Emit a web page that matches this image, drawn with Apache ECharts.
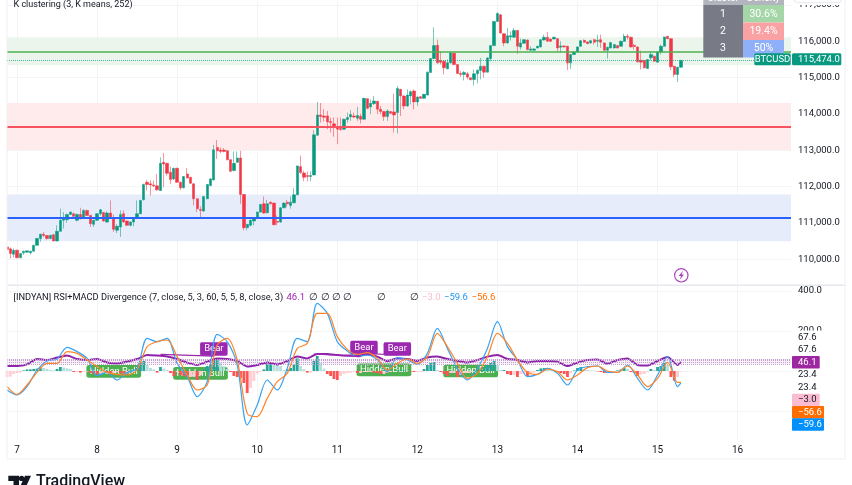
<!DOCTYPE html>
<html>
<head>
<meta charset="utf-8">
<style>
html, body { margin: 0; padding: 0; background: #fff; overflow: hidden; }
#chart { width: 852px; height: 485px; }
</style>
<script src="https://cdn.jsdelivr.net/npm/echarts@6/dist/echarts.min.js"></script>
</head>
<body>
<div id="chart"></div>
<script>
const FONT = 'Roboto';

// hourly candles, first one is 21:00 on the 6th
const opens = [
  110337,110283,110136,110246,110036,110173,110191,110173,110219,110383,
  110566,110685,110648,110566,110675,110502,110767,111068,111086,111232,
  111251,111068,111232,111141,111342,111205,110958,111068,111251,111287,
  111022,111269,111123,110794,110885,111251,111050,110931,111022,111141,
  111251,111634,112118,112073,112045,112018,111890,112666,112639,112392,
  112210,112502,112118,111963,112347,112255,112073,111662,111370,111324,
  111662,112027,112182,113077,113004,113004,112986,112739,112438,112666,
  112785,111780,110867,110931,111050,111141,111296,111525,111278,111570,
  111543,111041,111022,111415,111570,111479,111552,111771,112548,112374,
  112301,112274,112319,113415,113973,113945,113945,113790,113726,113625,
  113598,113580,113845,113918,113945,113881,113936,113854,114420,114192,
  114283,114347,114128,114064,113927,114064,114055,114037,114676,114493,
  114219,114493,114630,114329,114475,114429,114520,115142,115525,115890,
  115470,115452,115242,115406,115671,115361,115114,115087,115105,114995,
  114950,115105,115196,115315,115151,115525,115881,116548,116731,116210,
  115954,116119,116110,116301,115845,115945,116037,115754,115754,115818,
  115845,116037,116110,116064,116064,116073,115836,115872,115863,115406,
  115635,115708,115863,116027,115982,115954,116046,116000,116046,115954,
  115753,115818,115818,115881,115863,116000,116137,116110,115890,115845,
  115479,115470,115251,115544,115589,115425,115708,115863,116137,116073,
  115315,115087,115288
];
const closes = [
  110264,110155,110246,110036,110155,110219,110228,110219,110383,110566,
  110685,110648,110566,110657,110502,110767,111068,111114,111232,111296,
  111178,111232,111114,111342,111205,110977,111068,111251,111360,111050,
  111269,111141,110821,110904,111232,111022,110931,111022,111141,111251,
  111616,112054,112054,112045,112018,111908,112639,112621,112365,112191,
  112502,112118,111963,112274,112237,112091,111662,111388,111342,111726,
  112054,112210,113013,112986,112968,112968,112739,112420,112639,112785,
  111780,110867,110958,111068,111141,111296,111506,111269,111525,111525,
  110949,111013,111415,111543,111525,111570,111771,112566,112383,112255,
  112274,112301,113424,113972,113927,113909,113781,113762,113625,113580,
  113571,113854,113900,113982,113918,113954,113854,114429,114155,114292,
  114356,114128,114064,113927,114082,114018,113973,114703,114493,114219,
  114520,114612,114329,114466,114429,114539,115151,115525,115881,115406,
  115425,115269,115406,115680,115361,115114,115087,115142,115014,114941,
  115105,115206,115315,115151,115543,115881,116548,116767,116228,115954,
  116155,116155,116301,115863,115954,116046,115772,115790,115790,115863,
  116046,116110,116000,116000,116110,115817,115872,115845,115406,115635,
  115708,115845,116018,115973,115936,116018,115973,116027,115973,115753,
  115836,115964,115909,115818,116000,116137,116110,115845,115854,115434,
  115425,115269,115498,115635,115452,115708,115863,116119,116073,115297,
  115087,115288,115474
];
const highs = [
  110374,110319,110292,110260,110155,110230,110235,110230,110390,110590,
  110700,110748,110660,110670,110690,110931,111388,111296,111250,111310,
  111290,111260,111415,111380,111360,111220,111090,111270,111380,111300,
  111320,111616,111230,110960,111342,111342,111070,111040,111160,111616,
  111630,112080,112182,112164,112164,112347,112803,112922,112650,112548,
  112520,112520,112130,112290,112511,112270,112090,111680,111452,111740,
  112070,112230,113150,113278,113077,113060,113000,112750,112968,112968,
  112986,111790,110970,111090,111160,111310,111520,111726,111634,111590,
  111560,111205,111430,111560,111634,111726,111954,112580,112849,112438,
  112411,112420,113552,114329,114301,114128,114082,113900,113900,113900,
  113900,113870,114037,114100,114037,114192,114009,114440,114430,114402,
  114493,114360,114219,114080,114128,114080,114557,114767,114690,114510,
  114676,114650,114676,114480,114490,114550,115170,115540,116384,116046,
  115726,115470,115498,115726,115690,115375,115178,115178,115160,115010,
  115224,115220,115543,115330,115560,115890,116560,116795,116750,116220,
  116365,116274,116365,116310,116073,116060,116050,115863,115810,115880,
  116060,116183,116256,116080,116130,116090,116000,115890,115880,115650,
  115720,115860,116030,116050,116000,116040,116073,116183,116183,115970,
  115850,115980,115920,115900,116020,116210,116201,116130,115927,115860,
  115744,115490,115510,115726,115610,115720,115909,116130,116150,116090,
  115330,115300,115490
];
const lows = [
  110246,110018,110045,110030,110030,110120,110180,110130,110200,110370,
  110480,110612,110540,110560,110490,110490,110760,110840,111000,111220,
  111130,111040,111090,111120,111190,110885,110885,111050,111200,111030,
  111000,111130,110750,110720,110612,111010,110920,110900,110904,111130,
  111240,111620,111890,111753,111981,111890,111880,111981,112300,112073,
  112180,112100,111908,111950,112220,112070,111479,111296,111141,111300,
  111650,112010,112170,112758,112913,112940,112720,112400,112420,112650,
  111525,110794,110794,110900,110931,111130,111280,111250,111260,111510,
  110930,110931,111000,111400,111433,111388,111540,111760,112347,112146,
  112146,112146,112310,113400,113762,113790,113580,113488,113370,113169,
  113534,113560,113762,113808,113881,113808,113735,113840,114128,113991,
  114247,113991,113991,113808,113808,113990,113488,113461,113945,114128,
  114200,114265,114128,114219,114410,114410,114510,115130,115510,115390,
  115360,115087,115230,115390,115340,115100,115014,114922,114950,114930,
  114785,114840,114950,114995,115140,115452,115870,116540,116210,115863,
  115940,116018,116100,115653,115772,115930,115750,115740,115740,115800,
  115830,116020,115990,115980,116050,115726,115680,115830,115206,115242,
  115620,115690,115850,115960,115920,115940,115909,115845,115817,115740,
  115525,115800,115800,115800,115850,115980,116046,115830,115772,115420,
  115224,115250,115240,115470,115430,115410,115635,115850,116060,115206,
  115014,114877,115270
];

const lastPrice = 115474;
// k clustering levels: [band top, centre, band bottom]
const clusterGreen = [116110, 115707, 115342];
const clusterRed = [114301, 113652, 113005];
const clusterBlue = [111780, 111142, 110492];
const priceTicks = [110000, 111000, 112000, 113000, 114000, 115000, 116000, 117000];

// indicator lines, read every third candle (the last one is candle 202)
const rsiLine = [
  25,25,33,60,55,67,77,60,55,60,43,38,47,60,80,77,72,60,42,30,47,63,60,50,22,30,43,33,
  50,72,63,85,85,80,77,77,83,72,50,63,60,50,68,72,60,50,42,55,72,80,60,55,43,50,50,47,25,
  42,55,58,37,55,63,30,27,50,70,30,46.1
];
const macdLine = [
  -95,-120,-78,5,50,60,118,97,63,-23,-7,-45,-7,13,163,147,163,38,-28,-128,-53,183,147,30,-270,-170,-45,-95,
  13,163,147,338,288,147,100,72,80,55,-3,67,55,33,88,213,113,13,-45,13,113,247,122,55,-28,-17,13,-12,-70,
  5,22,25,-7,-7,30,-37,-95,-20,72,-78,-59.6
];
const signalLine = [
  -78,-117,-70,-7,38,38,97,88,55,22,-7,-17,-20,5,122,147,155,72,-20,-95,-70,130,163,55,-212,-228,-137,-53,
  -12,113,138,288,288,172,108,83,92,63,5,38,60,38,72,188,122,38,-37,-12,72,188,138,55,-7,-17,10,-3,-45,
  -20,17,25,0,-7,25,-20,-78,-37,43,-57,-56.6
];
const histogram = [
  -30,-28,-15,-10,-8,3,8,8,10,12,18,15,10,5,3,10,20,17,14,10,-5,-5,-8,-4,-3,
  -10,-14,-18,-12,-8,-10,-14,-10,-6,-10,-14,-10,-5,-3,
  15,40,50,30,15,8,-8,20,12,5,-10,-25,-5,-20,-25,-30,-30,-30,-45,-20,8,25,30,60,60,40,
  25,10,-5,-25,-30,-35,-60,-110,-85,-50,-12,-5,8,35,45,40,35,25,5,
  8,15,33,63,25,10,-8,-8,50,75,40,12,-15,-25,-40,-45,-25,-15,-10,-8,-5,-10,-10,-5,-5,-5,-8,-10,-15,-15,
  -8,-5,-3,3,3,3,2,-2,-5,-5,-5,10,30,40,45,5,-5,-15,-25,-10,-10,-30,-20,-10,-10,-5,-5,5,10,20,30,40,50,30,
  5,5,-15,-20,-20,-30,-15,-15,-25,-10,-8,5,13,15,10,8,5,-5,-10,-15,-30,
  -10,3,15,20,10,5,3,2,-2,-5,-10,-5,-3,-3,3,8,15,10,-5,-8,-25,-18,-15,-5,10,5,20,25,40,30,-30,-48,-30,-3
];
const indicatorTicks = [400, 200, 0, -200];
const overboughtRows = [60, 52, 44, 35];
// [candle, value] of the divergence flags
const bearFlags = [[62, 110], [107, 117], [117, 110]];
const bullFlags = [[32, -2], [58, -12], [113, 6], [139, 0]];
// [[candle, value], [candle, value]]
const divergenceLines = [
  [[46, 83], [62, 74]],
  [[92, 85], [106, 72]],
  [[107, 88], [117, 80]]
];

const dayLabels = ['7', '8', '9', '10', '11', '12', '13', '14', '15', '16'];
const clusterIds = ['1', '2', '3'];
const clusterShares = ['30.6%', '19.4%', '50%'];

const UP = '#089981';
const DOWN = '#f23645';
const GRID = '#f3f4f6';
const TEXT = '#131722';

// flag shape with small corners, the built in roundRect is too round here
const FLAG_PATH = 'path://M2,0H38a2,2 0 0 1 2,2V11a2,2 0 0 1 -2,2H2a2,2 0 0 1 -2,-2V2a2,2 0 0 1 2,-2z';

// 3 empty slots before the 7th, 236 in total so the pane ends at the right spot
const SLOTS = 236;
const isDayStart = i => i >= 3 && (i - 3) % 24 === 0;
const categories = [];
for (let i = 0; i < SLOTS; i++) {
  categories.push(isDayStart(i) ? (dayLabels[(i - 3) / 24] || '') : '');
}

const candles = opens.map((o, i) => [o, closes[i], lows[i], highs[i]]);
const sampled = values => values.map((v, k) => [Math.min(k * 3, 202), v]);

const histColor = i => {
  const v = histogram[i];
  const prev = i > 0 ? histogram[i - 1] : v;
  if (v >= 0) return v >= prev ? '#26a69a' : '#b2dfdb';
  return v < prev ? '#ff5252' : '#ffcdd2';
};

const clusterMarks = [
  { band: clusterGreen, fill: '#ebf5ec', line: '#4caf50', width: 1.6 },
  { band: clusterRed, fill: '#ffebeb', line: '#f7525f', width: 2 },
  { band: clusterBlue, fill: '#e7ecfb', line: '#2962ff', width: 2 }
];

const text = (value, x, y, fill, size, extra) => ({
  type: 'text',
  z: 100,
  silent: true,
  style: Object.assign({ text: value, x: x, y: y, fill: fill, font: `${size || 9.5}px ${FONT}`, textVerticalAlign: 'middle' }, extra)
});
const box = (x, y, width, height, fill, r) => ({
  type: 'rect',
  z: 99,
  silent: true,
  shape: { x: x, y: y, width: width, height: height, r: r || 0 },
  style: { fill: fill }
});
const tag = (value, y, width, fill, color) => [
  box(792, y - 6.2, width, 12.4, fill, 1),
  text(value, 798, y, color)
];

const graphics = [
  // clip the half candle at the left edge
  box(0, 0, 7, 284, '#fff'),
  // frame and pane separator
  { type: 'rect', z: 99.5, silent: true, shape: { x: 7, y: -2, width: 838, height: 461 }, style: { fill: 'none', stroke: '#eff0f4', lineWidth: 1 } },
  box(7, 284.5, 838, 1.5, '#e6e8f0'),
  // pill hiding the top of the scale
  box(794, 0, 48, 5, '#fff'),
  { type: 'rect', z: 99, silent: true, shape: { x: 794.5, y: -6, width: 47, height: 8.7, r: 3 }, style: { fill: '#fff', stroke: '#e6e8f0', lineWidth: 1 } },

  text('K clustering (3, K means, 252)', 13.5, 4.5, TEXT, 9),
  text('[INDYAN] RSI+MACD Divergence (7, close, 5, 3, 60, 5, 5, 8, close, 3)', 13.5, 297.5, TEXT, 9.25),
  text('46.1', 286.5, 297.5, '#9c27b0'),
  text('\u2205', 309, 297.5, TEXT),
  text('\u2205', 320.5, 297.5, TEXT),
  text('\u2205', 332, 297.5, TEXT),
  text('\u2205', 343, 297.5, TEXT),
  text('\u2205', 377, 297.5, TEXT),
  text('\u2205', 410, 297.5, TEXT),
  text('\u22123.0', 422, 297.5, '#f8bbd0'),
  text('\u221259.6', 444, 297.5, '#2196f3'),
  text('\u221256.6', 471.5, 297.5, '#ff6d00'),

  // cluster table
  box(703.3, 0, 80.7, 5, '#b2b5be'),
  text('Cluster', 723, -2, '#fff', 10, { textAlign: 'center' }),
  text('Density', 763.5, -2, '#fff', 10, { textAlign: 'center' }),
  box(703.3, 5, 39.7, 52.5, '#787b86'),
  box(743, 5, 41, 17.5, '#a5d6a7'),
  box(743, 22.5, 41, 17.5, '#faa1a4'),
  box(743, 40, 41, 17.5, '#90aff9'),

  // last price tags
  box(754.3, 53.3, 36.4, 12, UP, 1.5),
  text('BTCUSD', 772.5, 59.5, '#fff', 9.5, { textAlign: 'center' }),
  box(792, 53.3, 49.3, 12, UP, 1.5),
  text('115,474.0', 798, 59.5, '#fff'),

  // indicator scale readouts, these sit above the axis labels
  box(792, 330.5, 50, 12.5, '#fff'),
  text('67.6', 798, 337.3, TEXT),
  text('67.6', 798, 349.6, TEXT),
  text('23.4', 798, 375, TEXT),
  text('23.4', 798, 387.5, TEXT),
  ...tag('46.1', 362.2, 27.7, '#9c27a0', '#fff'),
  ...tag('\u22123.0', 400, 27.7, '#fbbcd1', TEXT),
  ...tag('\u221256.6', 412.2, 32, '#ff6d00', '#fff'),
  ...tag('\u221259.6', 424.5, 32, '#0091ff', '#fff'),

  // alert icon
  { type: 'circle', z: 99, silent: true, shape: { cx: 681.3, cy: 275.3, r: 6.7 }, style: { fill: '#fff', stroke: '#ab47bc', lineWidth: 1.2 } },
  { type: 'polygon', z: 100, silent: true, shape: { points: [[683, 270.8], [678.6, 276], [681, 276], [679.8, 279.8], [684, 274.6], [681.6, 274.6]] }, style: { fill: '#ab47bc' } },

  // logo
  { type: 'polygon', z: 100, silent: true, shape: { points: [[8.3, 475.7], [19, 475.7], [19, 489], [13.5, 489], [13.5, 481], [8.3, 481]] }, style: { fill: TEXT } },
  { type: 'circle', z: 100, silent: true, shape: { cx: 21.6, cy: 478.4, r: 2.7 }, style: { fill: TEXT } },
  { type: 'polygon', z: 100, silent: true, shape: { points: [[25, 475.7], [31, 475.7], [25, 489], [19, 489]] }, style: { fill: TEXT } },
  text('TradingView', 36, 482, TEXT, 16, { font: `500 16px ${FONT}` })
];

clusterIds.forEach((id, i) => {
  graphics.push(text(id, 723, 14 + i * 17.4, '#fff', 10.5, { textAlign: 'center' }));
  graphics.push(text(clusterShares[i], 763.5, 14 + i * 17.4, '#fff', 10.5, { textAlign: 'center' }));
});

const sharedX = gridIndex => ({
  type: 'category',
  gridIndex: gridIndex,
  data: categories,
  boundaryGap: false,
  axisLine: { show: false },
  axisTick: { show: false },
  splitLine: { show: true, interval: i => isDayStart(i), lineStyle: { color: GRID, width: 1 } },
  axisLabel: gridIndex === 0 ? { show: false } : {
    interval: i => isDayStart(i),
    color: TEXT,
    fontFamily: FONT,
    fontSize: 10,
    margin: 6,
    hideOverlap: false
  }
});

const option = {
  animation: false,
  backgroundColor: '#fff',
  textStyle: { fontFamily: FONT },
  grid: [
    { left: 7, top: 0, width: 784, height: 284 },
    { left: 7, top: 286, width: 784, height: 153 }
  ],
  xAxis: [sharedX(0), sharedX(1)],
  yAxis: [
    {
      type: 'value',
      gridIndex: 0,
      position: 'right',
      min: 109315,
      max: 117096,
      axisLine: { show: false },
      axisTick: { show: false, customValues: priceTicks },
      splitLine: { show: true, lineStyle: { color: GRID } },
      axisLabel: {
        customValues: priceTicks,
        color: TEXT,
        fontSize: 9.5,
        margin: 7,
        formatter: v => v.toLocaleString('en-US', { minimumFractionDigits: 1 })
      }
    },
    {
      type: 'value',
      gridIndex: 1,
      position: 'right',
      min: -340,
      max: 425,
      axisLine: { show: false },
      axisTick: { show: false, customValues: indicatorTicks },
      splitLine: { show: true, lineStyle: { color: GRID } },
      axisLabel: {
        customValues: indicatorTicks,
        color: TEXT,
        fontSize: 9.5,
        margin: 7,
        formatter: v => (v === 0 ? '' : v.toFixed(1))
      }
    }
  ],
  graphic: graphics,
  series: [
    {
      name: 'BTCUSD',
      type: 'candlestick',
      xAxisIndex: 0,
      yAxisIndex: 0,
      barWidth: 2.8,
      data: candles,
      itemStyle: {
        color: UP,
        color0: DOWN,
        borderColor: 'rgba(8,153,129,0.75)',
        borderColor0: 'rgba(242,54,69,0.75)',
        borderWidth: 0.7
      },
      markArea: {
        silent: true,
        data: clusterMarks.map(m => [
          { yAxis: m.band[0], itemStyle: { color: m.fill } },
          { yAxis: m.band[2] }
        ])
      },
      markLine: {
        silent: true,
        symbol: 'none',
        label: { show: false },
        data: clusterMarks.map(m => ({
          yAxis: m.band[1],
          lineStyle: { color: m.line, width: m.width, type: 'solid' }
        })).concat([{ yAxis: lastPrice, lineStyle: { color: UP, width: 1, type: 'dotted', opacity: 0.7 } }])
      }
    },
    {
      name: 'Bear',
      type: 'scatter',
      xAxisIndex: 1,
      yAxisIndex: 1,
      z: 1,
      symbol: FLAG_PATH,
      symbolKeepAspect: false,
      symbolSize: [27.5, 13.5],
      data: bearFlags,
      itemStyle: { color: '#9c27b0', opacity: 1 },
      label: { show: true, position: 'inside', formatter: 'Bear', color: '#fff', fontSize: 9.5 }
    },
    {
      name: 'Hidden Bull',
      type: 'scatter',
      xAxisIndex: 1,
      yAxisIndex: 1,
      z: 1,
      symbol: FLAG_PATH,
      symbolKeepAspect: false,
      symbolSize: [54.7, 12.7],
      data: bullFlags,
      itemStyle: { color: '#4caf50', opacity: 1 },
      label: { show: true, position: 'inside', formatter: 'Hidden Bull', color: '#fff', fontSize: 9.5 }
    },
    {
      name: 'Histogram',
      type: 'bar',
      xAxisIndex: 1,
      yAxisIndex: 1,
      z: 2,
      barWidth: 2.8,
      data: histogram.map((v, i) => ({ value: v, itemStyle: { color: histColor(i) } }))
    },
    {
      name: 'RSI',
      type: 'line',
      xAxisIndex: 1,
      yAxisIndex: 1,
      z: 3,
      showSymbol: false,
      smooth: 0.2,
      data: sampled(rsiLine),
      lineStyle: { color: '#8e24aa', width: 2 },
      markArea: {
        silent: true,
        data: [[
          { yAxis: overboughtRows[0], itemStyle: { color: 'rgba(156,39,176,0.07)' } },
          { yAxis: overboughtRows[overboughtRows.length - 1] }
        ]]
      },
      markLine: {
        silent: true,
        symbol: 'none',
        label: { show: false },
        data: overboughtRows.map(v => ({
          yAxis: v,
          lineStyle: { color: '#c5a3d1', width: 1, type: 'dotted' }
        })).concat(divergenceLines.map(pair => [
          { coord: pair[0], lineStyle: { color: '#9c27b0', width: 1.2, type: 'solid' } },
          { coord: pair[1] }
        ]))
      }
    },
    {
      name: 'MACD',
      type: 'line',
      xAxisIndex: 1,
      yAxisIndex: 1,
      z: 4,
      showSymbol: false,
      smooth: 0.3,
      data: sampled(macdLine),
      lineStyle: { color: '#38a3f5', width: 1.2 }
    },
    {
      name: 'Signal',
      type: 'line',
      xAxisIndex: 1,
      yAxisIndex: 1,
      z: 5,
      showSymbol: false,
      smooth: 0.3,
      data: sampled(signalLine),
      lineStyle: { color: '#ff8428', width: 1.2 }
    }
  ]
};

const chart = echarts.init(document.getElementById('chart'), null, { renderer: 'canvas' });
chart.setOption(option);
</script>
</body>
</html>
